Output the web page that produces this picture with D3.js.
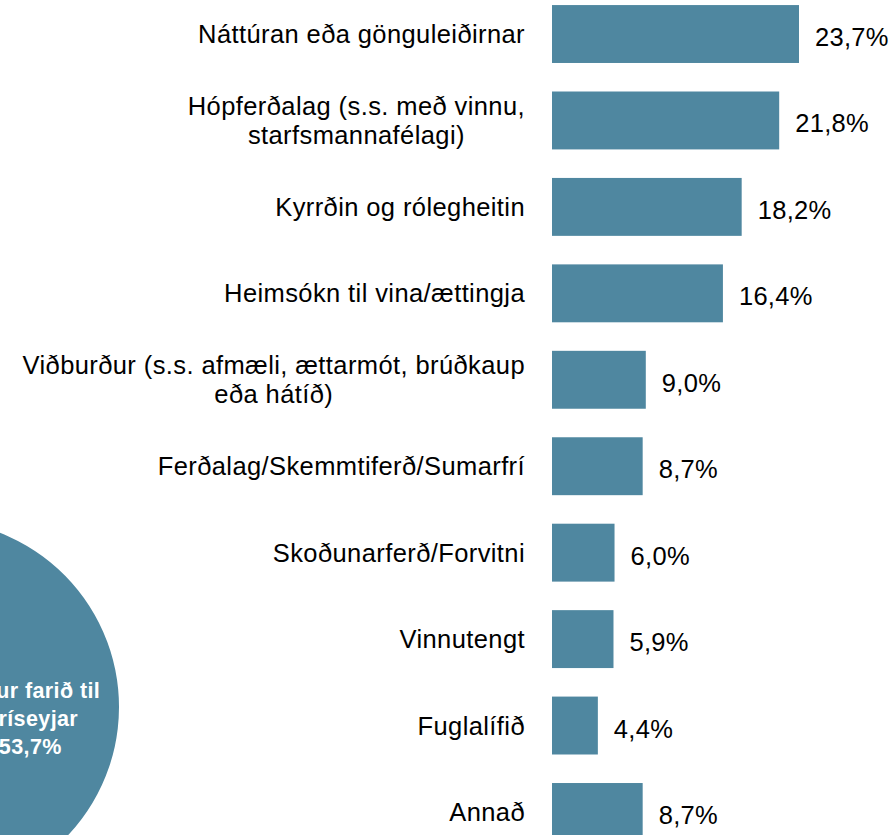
<!DOCTYPE html>
<html>
<head>
<meta charset="utf-8">
<script src="https://cdn.jsdelivr.net/npm/d3@7"></script>
<style>
  body { margin: 0; background: #fff; }
  svg { display: block; }
</style>
</head>
<body>
<div id="chart"></div>
<script>
// categories (lines of each label) and percentages
var categories = [
  ["Náttúran eða gönguleiðirnar"],
  ["Hópferðalag (s.s. með vinnu,", "starfsmannafélagi)"],
  ["Kyrrðin og rólegheitin"],
  ["Heimsókn til vina/ættingja"],
  ["Viðburður (s.s. afmæli, ættarmót, brúðkaup", "eða hátíð)"],
  ["Ferðalag/Skemmtiferð/Sumarfrí"],
  ["Skoðunarferð/Forvitni"],
  ["Vinnutengt"],
  ["Fuglalífið"],
  ["Annað"]
]
var values = [23.7, 21.8, 18.2, 16.4, 9.0, 8.7, 6.0, 5.9, 4.4, 8.7]
var valueLabels = ["23,7%", "21,8%", "18,2%", "16,4%", "9,0%", "8,7%", "6,0%", "5,9%", "4,4%", "8,7%"]

// pie in the lower left corner (only one slice is in view)
var pieValues = [53.7, 46.3]
var pieLabel = ["Hefur farið til", "Hríseyjar", "53,7%"]

var width = 891
var height = 835
var barColor = "#4f87a0"
var fontFam = "'Liberation Sans', Arial, sans-serif"
var fontSize = 25.5

var svg = d3.select("#chart")
  .append("svg")
  .attr("width", width)
  .attr("height", height)

// scales for the bars
var xScale = d3.scaleLinear()
  .domain([0, 23.7])
  .range([552, 799])

var yScale = d3.scaleBand()
  .domain(d3.range(values.length))
  .range([-9.2, 855.2])
  .paddingInner(0.33)
  .paddingOuter(0.165)

// draw bars
svg.selectAll("rect.bar")
  .data(values)
  .enter()
  .append("rect")
  .attr("class", "bar")
  .attr("x", xScale(0))
  .attr("y", function(d, i) { return yScale(i) })
  .attr("width", function(d) { return xScale(d) - xScale(0) })
  .attr("height", yScale.bandwidth())
  .attr("fill", barColor)

// value labels after each bar
svg.selectAll("text.value")
  .data(values)
  .enter()
  .append("text")
  .attr("class", "value")
  .attr("x", function(d) { return xScale(d) + 16 })
  .attr("y", function(d, i) { return yScale(i) + yScale.bandwidth() / 2 + 12 })
  .attr("font-family", fontFam)
  .attr("font-size", fontSize)
  .attr("letter-spacing", 0.3)
  .attr("fill", "#000")
  .text(function(d, i) { return valueLabels[i] })

// category labels, multi line ones are centred as a block, block right aligned
var labelRight = xScale(0) - 27
var lineHeight = 29
var labels = svg.selectAll("text.cat")
  .data(categories)
  .enter()
  .append("text")
  .attr("class", "cat")
  .attr("font-family", fontFam)
  .attr("font-size", fontSize)
  .attr("letter-spacing", 0.4)
  .attr("fill", "#000")
  .attr("text-anchor", "middle")

labels.each(function(lines, i) {
  var t = d3.select(this)
  var mid = yScale(i) + yScale.bandwidth() / 2
  var top = mid - (lines.length - 1) * lineHeight / 2 + 9
  lines.forEach(function(line, k) {
    t.append("tspan")
      .attr("y", top + k * lineHeight)
      .text(line)
  })
  var maxW = 0
  t.selectAll("tspan").each(function() {
    maxW = Math.max(maxW, this.getComputedTextLength())
  })
  t.selectAll("tspan").attr("x", labelRight - maxW / 2)
})

// pie chart, centre lies off the left edge
var pieCx = -68, pieCy = 707, pieR = 187
var pie = d3.pie().sort(null)
var arcs = pie(pieValues)
var arcGen = d3.arc().innerRadius(0).outerRadius(pieR)
var labelArc = d3.arc().innerRadius(99).outerRadius(99)

var pieG = svg.append("g")
  .attr("transform", "translate(" + pieCx + "," + pieCy + ")")

pieG.selectAll("path")
  .data(arcs)
  .enter()
  .append("path")
  .attr("d", arcGen)
  .attr("fill", function(d, i) { return i === 0 ? barColor : "#a9c6d3" })

var c = labelArc.centroid(arcs[0])
var pieText = pieG.append("text")
  .attr("text-anchor", "middle")
  .attr("font-family", fontFam)
  .attr("font-size", 21.5)
  .attr("font-weight", "bold")
  .attr("letter-spacing", 0.4)
  .attr("fill", "#fff")

pieLabel.forEach(function(line, k) {
  pieText.append("tspan")
    .attr("x", c[0])
    .attr("y", c[1] + (k - 1) * 28 + 7.5)
    .text(line)
})
</script>
</body>
</html>
